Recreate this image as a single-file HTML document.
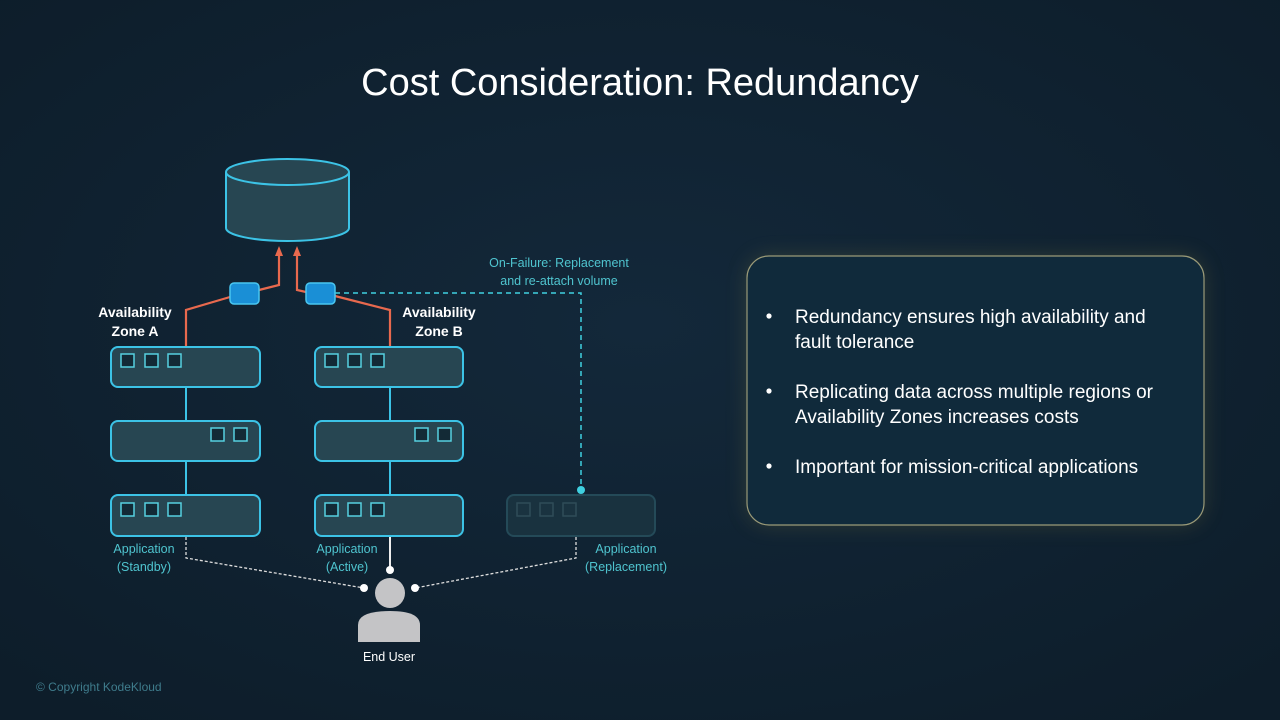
<!DOCTYPE html>
<html><head><meta charset="utf-8"><style>
html,body{margin:0;padding:0;background:#0f2130;}
svg{display:block;font-family:"Liberation Sans",sans-serif;}
</style></head><body>
<svg width="1280" height="720" viewBox="0 0 1280 720" xmlns="http://www.w3.org/2000/svg">
<defs>
<radialGradient id="bg" cx="50%" cy="45%" r="70%"><stop offset="0" stop-color="#13283a"/><stop offset="1" stop-color="#0d1d2a"/></radialGradient>
<filter id="glow" x="-20%" y="-20%" width="140%" height="140%"><feGaussianBlur stdDeviation="10"/></filter>
</defs>
<rect width="1280" height="720" fill="url(#bg)"/>
<text x="640" y="95" text-anchor="middle" font-size="38" fill="#ffffff">Cost Consideration: Redundancy</text>

<!-- panel -->
<rect x="747" y="256" width="457" height="269" rx="22" fill="#6a6a3a" opacity="0.35" filter="url(#glow)"/>
<rect x="747" y="256" width="457" height="269" rx="22" fill="#102a3b" stroke="#9a9a78" stroke-width="1.2"/>
<g font-size="19" fill="#ffffff">
<circle cx="769" cy="316" r="2.6"/><text x="795" y="323">Redundancy ensures high availability and</text><text x="795" y="348">fault tolerance</text>
<circle cx="769" cy="391" r="2.6"/><text x="795" y="398">Replicating data across multiple regions or</text><text x="795" y="423">Availability Zones increases costs</text>
<circle cx="769" cy="466" r="2.6"/><text x="795" y="473">Important for mission-critical applications</text>
</g>

<!-- cylinder -->
<path d="M226,172 L226,228 A61.5,13 0 0 0 349,228 L349,172" fill="#274652" stroke="#3cc3e6" stroke-width="2"/>
<ellipse cx="287.5" cy="172" rx="61.5" ry="13" fill="#274652" stroke="#3cc3e6" stroke-width="2"/>

<!-- orange lines -->
<g stroke="#e8694e" stroke-width="2.2" fill="none">
<polyline points="186,347 186,310 230,297"/>
<polyline points="259,290 279,285 279,254"/>
<polyline points="297,254 297,290 306,292"/>
<polyline points="335,296 390,310 390,347"/>
</g>
<polygon points="279,246 275,256 283,256" fill="#e8694e"/>
<polygon points="297,246 293,256 301,256" fill="#e8694e"/>
<rect x="230" y="283" width="29" height="21" rx="4" fill="#1a8fd6" stroke="#49c6f0" stroke-width="1.5"/>
<rect x="306" y="283" width="29" height="21" rx="4" fill="#1a8fd6" stroke="#49c6f0" stroke-width="1.5"/>

<!-- dashed failure line -->
<polyline points="335,293 581,293 581,490" stroke="#3fd0e0" stroke-width="1.5" stroke-dasharray="5,4" fill="none"/>
<circle cx="581" cy="490" r="4" fill="#3fd0e0"/>
<text x="559" y="267" text-anchor="middle" font-size="12.5" fill="#4fc4cf">On-Failure: Replacement</text>
<text x="559" y="285" text-anchor="middle" font-size="12.5" fill="#4fc4cf">and re-attach volume</text>

<text x="135" y="317" text-anchor="middle" font-size="14" font-weight="bold" fill="#fff">Availability</text>
<text x="135" y="336" text-anchor="middle" font-size="14" font-weight="bold" fill="#fff">Zone A</text>
<text x="439" y="317" text-anchor="middle" font-size="14" font-weight="bold" fill="#fff">Availability</text>
<text x="439" y="336" text-anchor="middle" font-size="14" font-weight="bold" fill="#fff">Zone B</text>

<!-- vertical connectors -->
<g stroke="#3cc3e6" stroke-width="2"><line x1="186" y1="387" x2="186" y2="421"/><line x1="186" y1="461" x2="186" y2="495"/><line x1="390" y1="387" x2="390" y2="421"/><line x1="390" y1="461" x2="390" y2="495"/></g>

<!-- boxes -->
<g fill="#274652" stroke="#3cc3e6" stroke-width="2">
<rect x="111" y="347" width="149" height="40" rx="7"/><rect x="111" y="421" width="149" height="40" rx="7"/><rect x="111" y="495" width="149" height="41" rx="7"/>
<rect x="315" y="347" width="148" height="40" rx="7"/><rect x="315" y="421" width="148" height="40" rx="7"/><rect x="315" y="495" width="148" height="41" rx="7"/>
</g>
<rect x="507" y="495" width="148" height="41" rx="7" fill="#19323f" stroke="#244a58" stroke-width="2"/>
<g fill="#132a36" stroke="#56d0e0" stroke-width="1.5">
<rect x="121" y="354" width="13" height="13"/><rect x="145" y="354" width="13" height="13"/><rect x="168" y="354" width="13" height="13"/>
<rect x="325" y="354" width="13" height="13"/><rect x="348" y="354" width="13" height="13"/><rect x="371" y="354" width="13" height="13"/>
<rect x="211" y="428" width="13" height="13"/><rect x="234" y="428" width="13" height="13"/>
<rect x="415" y="428" width="13" height="13"/><rect x="438" y="428" width="13" height="13"/>
<rect x="121" y="503" width="13" height="13"/><rect x="145" y="503" width="13" height="13"/><rect x="168" y="503" width="13" height="13"/>
<rect x="325" y="503" width="13" height="13"/><rect x="348" y="503" width="13" height="13"/><rect x="371" y="503" width="13" height="13"/>
</g>
<g fill="#1a3340" stroke="#2f4c58" stroke-width="1.5"><rect x="517" y="503" width="13" height="13"/><rect x="540" y="503" width="13" height="13"/><rect x="563" y="503" width="13" height="13"/></g>

<g font-size="12.5" fill="#4fc4cf" text-anchor="middle">
<text x="144" y="553">Application</text><text x="144" y="571">(Standby)</text>
<text x="347" y="553">Application</text><text x="347" y="571">(Active)</text>
<text x="626" y="553">Application</text><text x="626" y="571">(Replacement)</text>
</g>

<!-- user connectors -->
<polyline points="186,537 186,558 364,588" stroke="#ddd" stroke-width="1.3" stroke-dasharray="3,2" fill="none"/>
<polyline points="576,537 576,558 415,588" stroke="#ddd" stroke-width="1.3" stroke-dasharray="3,2" fill="none"/>
<line x1="390" y1="537" x2="390" y2="570" stroke="#eee" stroke-width="2"/>
<circle cx="390" cy="570" r="4" fill="#fff"/><circle cx="364" cy="588" r="4" fill="#fff"/><circle cx="415" cy="588" r="4" fill="#fff"/>
<circle cx="390" cy="593" r="15" fill="#c4c4c6"/>
<path d="M358,642 L358,625 Q358,611 390,611 Q420,611 420,625 L420,642 Z" fill="#c4c4c6"/>
<text x="389" y="661" text-anchor="middle" font-size="12.5" fill="#fff">End User</text>

<text x="36" y="691" font-size="12" fill="#3f7c8c">© Copyright KodeKloud</text>
</svg>
</body></html>
